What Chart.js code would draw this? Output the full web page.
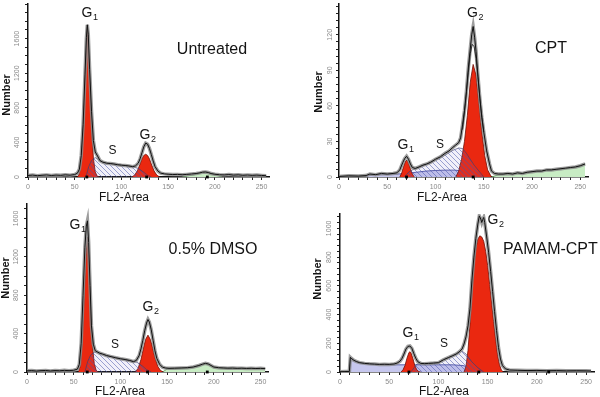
<!DOCTYPE html>
<html>
<head>
<meta charset="utf-8">
<script src="https://cdn.jsdelivr.net/npm/chart.js@4.4.0/dist/chart.umd.min.js"></script>
<style>
  body { margin: 0; background: #fff; }
  #wrap { position: relative; width: 600px; height: 397px; overflow: hidden; }
  canvas { position: absolute; }
</style>
</head>
<body>
<div id="wrap">
  <canvas id="dmso" width="300" height="197" style="left:0;top:200px"></canvas>
  <canvas id="pamam" width="300" height="197" style="left:300px;top:200px"></canvas>
  <canvas id="untreated" width="300" height="207" style="left:0;top:0;z-index:2"></canvas>
  <canvas id="cpt" width="300" height="207" style="left:300px;top:0;z-index:2"></canvas>
</div>
<script>
// ---- Untreated ----
const untX = [0, 5, 10, 15, 20, 25, 30, 35, 40, 45, 50, 53, 55, 57, 59, 61, 62.5, 63.5, 64.5, 66, 68, 70, 72, 75, 77, 80, 84, 88, 92, 96, 100, 104, 108, 112, 115, 118, 120, 122, 124, 126, 128, 130, 132, 134, 136, 139, 142, 146, 150, 155, 160, 165, 170, 175, 180, 184, 187, 190, 193, 196, 200, 205, 210, 215, 220, 225, 230, 235, 240, 245, 250, 255];
const untTotal = [18, 22, 15, 20, 24, 17, 22, 19, 25, 21, 28, 45, 90, 250, 610, 1180, 1610, 1760, 1650, 1240, 760, 420, 290, 232, 190, 172, 160, 156, 150, 142, 137, 133, 128, 120, 128, 160, 210, 280, 350, 392, 380, 330, 260, 185, 120, 70, 45, 36, 32, 28, 30, 26, 30, 35, 40, 48, 56, 58, 52, 40, 32, 26, 24, 28, 22, 25, 20, 23, 19, 22, 18, 15];
const untG1X = [53, 55, 57, 59, 61, 62.5, 63.5, 64.5, 66, 68, 70, 72, 74, 76];
const untG1 = [0, 40, 200, 560, 1130, 1560, 1737, 1600, 1180, 600, 220, 60, 10, 0];
const untG2X = [111, 114, 117, 120, 122, 124, 126, 128, 130, 132, 135, 138, 141];
const untG2 = [0, 20, 70, 150, 210, 250, 263, 250, 210, 150, 70, 20, 0];
const untSX = [62, 65, 68, 72, 76, 80, 88, 96, 104, 112, 118, 124, 128, 132];
const untS = [0, 120, 190, 225, 195, 170, 156, 142, 133, 120, 100, 55, 20, 0];
const untAggX = [165, 172, 178, 183, 187, 190, 193, 197, 202, 208];
const untAgg = [0, 15, 25, 40, 52, 56, 50, 35, 18, 0];
const untMarks = [63, 127, 192];

// ---- CPT ----
const cptX = [0, 10, 20, 28, 32, 38, 44, 50, 56, 60, 63, 66, 68, 70, 72, 74, 76, 79, 83, 87, 91, 95, 100, 105, 110, 114, 118, 121, 124, 126, 128, 130, 132, 134, 136, 137.5, 139, 140.5, 142, 144, 146, 148, 150, 153, 156, 158, 161, 165, 170, 175, 180, 185, 190, 195, 200, 205, 210, 215, 220, 225, 230, 235, 240, 245, 250, 255];
const cptTotal = [0.5, 1, 0.8, 1.2, 2.5, 2, 3, 2.5, 3, 3.5, 6, 12, 15.5, 17.5, 15, 11, 8, 7.2, 8.5, 10, 11, 12.5, 15, 17, 20, 22, 25, 27, 29, 33, 44, 56, 72, 92, 108, 120, 127, 118, 106, 85, 66, 50, 38, 22, 11, 5, 3, 2.5, 2.5, 3, 2.5, 3.5, 3, 4, 4.5, 5, 5, 6, 6, 6.5, 7, 7.5, 8, 8.5, 9.5, 11];
const cptFitX = [128, 131, 134, 136, 138, 140, 142, 144, 147, 150];
const cptFit = [40, 62, 88, 104, 112, 110, 100, 84, 58, 38];
const cptG1X = [63, 65, 67, 69, 70.5, 72, 74, 76, 78];
const cptG1 = [0, 3.5, 9, 13.5, 14.2, 12, 7, 2.5, 0];
const cptG2X = [121, 124, 127, 130, 133, 136, 139, 142, 145, 148, 151, 154, 158];
const cptG2 = [0, 5, 15, 30, 52, 80, 95, 86, 62, 38, 18, 6, 0];
const cptSX = [68, 72, 76, 80, 90, 100, 110, 118, 124, 128, 132, 136, 140, 145, 150];
const cptS = [0, 4, 6, 7, 10.5, 14, 18.5, 22.5, 24.5, 24, 20, 15, 10, 5, 0];
const cptDebX = [28, 30, 40, 50, 60, 70, 80, 90, 100, 110, 120, 128, 136, 144, 150];
const cptDeb = [0, 1.5, 2, 2.2, 2.5, 3, 4, 5, 5.5, 5.8, 5.8, 5, 3, 1, 0];
const cptAggX = [158, 165, 175, 185, 195, 205, 215, 225, 235, 245, 250, 255];
const cptAgg = [0, 1.8, 2.5, 3, 3.5, 4.5, 5.5, 6.2, 7, 8.2, 9.2, 11];
const cptMarks = [70, 139];

// ---- 0.5% DMSO ----
const dmsoX = [0, 5, 10, 15, 20, 25, 30, 35, 40, 45, 50, 54, 56, 58, 60, 62, 63.5, 64.7, 66, 67.5, 69, 71, 73, 75, 78, 81, 85, 90, 95, 100, 105, 110, 114, 117, 120, 122, 124, 126, 128, 129.5, 131, 133, 135, 137, 139, 142, 145, 148, 152, 158, 165, 172, 178, 184, 188, 191, 194, 197, 200, 205, 210, 215, 220, 225, 230, 235, 240, 245, 250, 255];
const dmsoTotal = [12, 15, 10, 14, 16, 11, 15, 13, 17, 14, 18, 30, 80, 300, 800, 1300, 1520, 1575, 1350, 900, 480, 290, 222, 211, 195, 187, 172, 160, 148, 138, 130, 120, 108, 120, 170, 240, 330, 430, 510, 547, 520, 440, 330, 220, 140, 80, 50, 42, 38, 40, 42, 45, 52, 68, 82, 90, 84, 68, 52, 45, 42, 40, 41, 38, 40, 37, 39, 36, 38, 35];
const dmsoG1X = [55, 57, 59, 61, 63, 64.7, 66, 68, 70, 72, 74, 76];
const dmsoG1 = [0, 60, 300, 750, 1200, 1406, 1250, 700, 280, 90, 20, 0];
const dmsoG2X = [116, 119, 122, 125, 127, 129.5, 132, 134, 137, 140, 143, 146];
const dmsoG2 = [0, 40, 130, 260, 340, 384, 340, 270, 150, 60, 15, 0];
const dmsoSX = [62, 65, 68, 72, 76, 80, 88, 96, 104, 112, 118, 124, 128, 133];
const dmsoS = [0, 110, 175, 205, 200, 185, 165, 146, 132, 115, 100, 60, 25, 0];
const dmsoAggX = [145, 150, 160, 170, 178, 184, 188, 191, 194, 197, 200, 205, 215, 230, 245, 255];
const dmsoAgg = [0, 30, 36, 40, 46, 62, 78, 85, 80, 64, 48, 42, 39, 38, 36, 35];
const dmsoMarks = [64.5, 129, 193];

// ---- PAMAM-CPT ----
const pamX = [0, 5, 9.5, 10.5, 12, 14, 17, 20, 25, 30, 35, 40, 45, 50, 55, 58, 61, 63, 65, 67, 69, 71, 73, 75, 77, 79, 82, 86, 90, 95, 100, 105, 110, 114, 118, 121, 124, 126, 128, 130, 132, 134, 136, 138, 140, 141.5, 143, 144, 145, 146, 147, 149, 151, 153, 155, 157, 159, 161, 163, 165, 168, 172, 180, 190, 200, 210, 220, 230, 240, 250, 255];
const pamTotal = [2, 3, 4, 102, 92, 82, 72, 65, 60, 57, 55, 53, 54, 53, 56, 62, 75, 95, 125, 160, 178, 181, 165, 128, 95, 72, 60, 58, 60, 62, 65, 85, 100, 112, 125, 140, 160, 195, 245, 320, 440, 640, 800, 930, 1030, 1087, 1065, 1041, 1062, 1076, 1040, 940, 830, 700, 560, 420, 290, 170, 90, 45, 22, 14, 12, 10, 11, 9, 10, 8, 9, 8, 7];
const pamG1X = [62, 64, 66, 68, 70, 71, 72, 74, 76, 78, 80, 82];
const pamG1 = [0, 15, 45, 95, 135, 141, 135, 95, 45, 15, 3, 0];
const pamG2X = [126, 128, 130, 132, 134, 136, 138, 140, 142, 144, 146, 148, 150, 152, 154, 156, 158, 160, 162, 164, 166];
const pamG2 = [0, 40, 150, 330, 560, 740, 860, 925, 948, 940, 910, 840, 740, 610, 480, 350, 230, 120, 50, 12, 0];
const pamSX = [72, 78, 84, 90, 100, 110, 118, 124, 128, 134, 140, 146];
const pamS = [0, 55, 58, 60, 65, 100, 125, 145, 125, 70, 30, 0];
const pamDebX = [10, 10.5, 13, 16, 20, 25, 30, 40, 50, 60, 80, 100, 115, 125, 130, 135, 140, 147];
const pamDeb = [0, 100, 86, 72, 64, 58, 55, 52, 50, 50, 50, 50, 50, 45, 35, 20, 8, 0];
const pamMarks = [70, 141, 212];

const FONT = '"Liberation Sans", Arial, sans-serif';
const RED = 'rgb(234,40,16)';

function pts(xs, ys) {
  return xs.map((x, i) => ({ x: x, y: ys[i] }));
}

function hatch() {
  const c = document.createElement('canvas');
  c.width = c.height = 5;
  const g = c.getContext('2d');
  g.fillStyle = 'rgba(120,110,200,0.10)';
  g.fillRect(0, 0, 5, 5);
  g.strokeStyle = 'rgba(70,85,170,0.75)';
  g.lineWidth = 0.7;
  g.beginPath();
  g.moveTo(0, 0); g.lineTo(5, 5);
  g.moveTo(-1, 4); g.lineTo(1, 6);
  g.moveTo(4, -1); g.lineTo(6, 1);
  g.stroke();
  return g.createPattern(c, 'repeat');
}

function area(xs, ys, bg, border, order) {
  return { data: pts(xs, ys), backgroundColor: bg, borderColor: border, borderWidth: 0.8,
           fill: 'origin', pointRadius: 0, order: order };
}

// text labels drawn on top of each panel
const notes = {
  id: 'notes',
  afterDraw(chart, args, opts) {
    const ctx = chart.ctx;
    (opts.items || []).forEach(n => {
      ctx.save();
      ctx.fillStyle = '#141414';
      ctx.textBaseline = 'middle';
      ctx.font = (n.bold ? 'bold ' : '') + n.size + 'px ' + FONT;
      if (n.rot) {
        ctx.translate(n.x, n.y);
        ctx.rotate(-Math.PI / 2);
        ctx.textAlign = 'center';
        ctx.fillText(n.t, 0, 0);
      } else if (n.sub) {
        const w = ctx.measureText(n.t).width;
        ctx.textAlign = 'center';
        ctx.fillText(n.t, n.x, n.y);
        ctx.font = Math.round(n.size * 0.62) + 'px ' + FONT;
        ctx.textAlign = 'left';
        ctx.fillText(n.sub, n.x + w / 2 + 0.5, n.y + n.size * 0.32);
      } else {
        ctx.textAlign = n.align || 'center';
        ctx.fillText(n.t, n.x, n.y);
      }
      ctx.restore();
    });
  }
};

function panel(id, p) {
  const sets = [
    { data: p.marks.map(x => ({ x: x, y: 0 })), showLine: false, pointStyle: 'rect', pointRadius: 2,
      pointBackgroundColor: '#000', pointBorderWidth: 0, clip: false, order: 0 },
    { data: pts(p.x, p.total), borderColor: '#111', borderWidth: 1, pointRadius: 0, fill: false, order: 1 },
    { data: pts(p.x, p.total), borderColor: 'rgba(140,140,140,0.85)', borderWidth: 3.5, pointRadius: 0, fill: false, order: 2 },
    area(p.sX, p.s, hatch(), 'rgba(60,60,110,0.8)', 3),
    area(p.g1X, p.g1, RED, '#6e1008', 4),
    area(p.g2X, p.g2, RED, '#6e1008', 4)
  ];
  if (p.fitX) sets.push({ data: pts(p.fitX, p.fit), borderColor: '#333', borderWidth: 1, pointRadius: 0, fill: false, order: 1 });
  if (p.aggX) sets.push(area(p.aggX, p.agg, 'rgb(200,236,196)', '#5a9a56', 5));
  if (p.debX) sets.push(area(p.debX, p.deb, 'rgb(198,199,238)', '#353c98', 5));

  const el = document.getElementById(id);
  const H = el.height;
  const tickFont = { family: FONT, size: 7 };
  new Chart(el, {
    type: 'line',
    data: { datasets: sets },
    options: {
      responsive: false,
      animation: false,
      elements: { line: { tension: 0 } },
      layout: { padding: { left: 0, top: p.top, right: p.padR, bottom: 0 } },
      plugins: { legend: { display: false }, tooltip: { enabled: false }, notes: { items: p.notes } },
      scales: {
        x: {
          type: 'linear', min: 0, max: 258,
          afterFit: s => { s.height = H - p.bottom; s.paddingLeft = 0; s.paddingRight = 0; },
          border: { color: '#111', width: 1.5 },
          grid: { drawOnChartArea: false, tickLength: 3, color: '#222' },
          ticks: { stepSize: 10, includeBounds: false, autoSkip: false, maxRotation: 0, padding: 3,
                   color: '#8a8a8a', font: tickFont,
                   callback: v => (v % 50 === 0 ? v : '') }
        },
        y: {
          min: 0, max: p.yMax,
          afterFit: s => { s.width = p.left; s.paddingTop = 0; s.paddingBottom = 0; },
          border: { color: '#111', width: 1.5 },
          grid: { drawOnChartArea: false, tickLength: 3, color: '#222' },
          ticks: { stepSize: p.yStep, includeBounds: false, autoSkip: false, minRotation: 90, maxRotation: 90,
                   crossAlign: 'center', padding: 0, color: '#8a8a8a', font: tickFont,
                   callback: v => (v % p.yEvery === 0 && v <= p.yTop ? v : '') }
        }
      }
    },
    plugins: [notes]
  });
}

panel('untreated', {
  left: 28, padR: 31, top: 2, bottom: 177, yMax: 2000, yStep: 100, yEvery: 400, yTop: 1600,
  x: untX, total: untTotal, g1X: untG1X, g1: untG1, g2X: untG2X, g2: untG2, sX: untSX, s: untS,
  aggX: untAggX, agg: untAgg, marks: untMarks,
  notes: [
    { t: 'G', sub: '1', x: 87, y: 13, size: 14 },
    { t: 'S', x: 112.5, y: 151, size: 12 },
    { t: 'G', sub: '2', x: 145, y: 135, size: 14 },
    { t: 'Untreated', x: 212, y: 50, size: 16 },
    { t: 'Number', x: 7, y: 95, size: 11, bold: true, rot: true },
    { t: 'FL2-Area', x: 124, y: 197.5, size: 12 }
  ]
});

panel('cpt', {
  left: 39, padR: 12, top: 2, bottom: 177, yMax: 146, yStep: 6, yEvery: 30, yTop: 120,
  x: cptX, total: cptTotal, fitX: cptFitX, fit: cptFit, g1X: cptG1X, g1: cptG1, g2X: cptG2X, g2: cptG2,
  sX: cptSX, s: cptS, debX: cptDebX, deb: cptDeb, aggX: cptAggX, agg: cptAgg, marks: cptMarks,
  notes: [
    { t: 'G', sub: '2', x: 172.5, y: 13, size: 14 },
    { t: 'G', sub: '1', x: 103, y: 145, size: 14 },
    { t: 'S', x: 140, y: 145, size: 12 },
    { t: 'CPT', x: 251, y: 48.5, size: 16 },
    { t: 'Number', x: 19, y: 92, size: 11, bold: true, rot: true },
    { t: 'FL2-Area', x: 142, y: 197.5, size: 12 }
  ]
});

panel('dmso', {
  left: 27, padR: 32, top: 3.6, bottom: 172, yMax: 1750, yStep: 100, yEvery: 400, yTop: 1600,
  x: dmsoX, total: dmsoTotal, g1X: dmsoG1X, g1: dmsoG1, g2X: dmsoG2X, g2: dmsoG2, sX: dmsoSX, s: dmsoS,
  aggX: dmsoAggX, agg: dmsoAgg, marks: dmsoMarks,
  notes: [
    { t: 'G', sub: '1', x: 75, y: 25, size: 14 },
    { t: 'S', x: 115, y: 145, size: 12 },
    { t: 'G', sub: '2', x: 148, y: 107.5, size: 14 },
    { t: '0.5% DMSO', x: 213, y: 50, size: 16 },
    { t: 'Number', x: 6, y: 78, size: 11, bold: true, rot: true },
    { t: 'FL2-Area', x: 120, y: 192, size: 12 }
  ]
});

panel('pamam', {
  left: 40, padR: 6, top: 14, bottom: 172, yMax: 1100, yStep: 40, yEvery: 200, yTop: 1000,
  x: pamX, total: pamTotal, g1X: pamG1X, g1: pamG1, g2X: pamG2X, g2: pamG2, sX: pamSX, s: pamS,
  debX: pamDebX, deb: pamDeb, marks: pamMarks,
  notes: [
    { t: 'G', sub: '2', x: 193, y: 20, size: 14 },
    { t: 'G', sub: '1', x: 108, y: 133, size: 14 },
    { t: 'S', x: 144, y: 144, size: 12 },
    { t: 'PAMAM-CPT', x: 203, y: 50, size: 16, align: 'left' },
    { t: 'Number', x: 18, y: 79, size: 11, bold: true, rot: true },
    { t: 'FL2-Area', x: 144, y: 192, size: 12 }
  ]
});
</script>
</body>
</html>
